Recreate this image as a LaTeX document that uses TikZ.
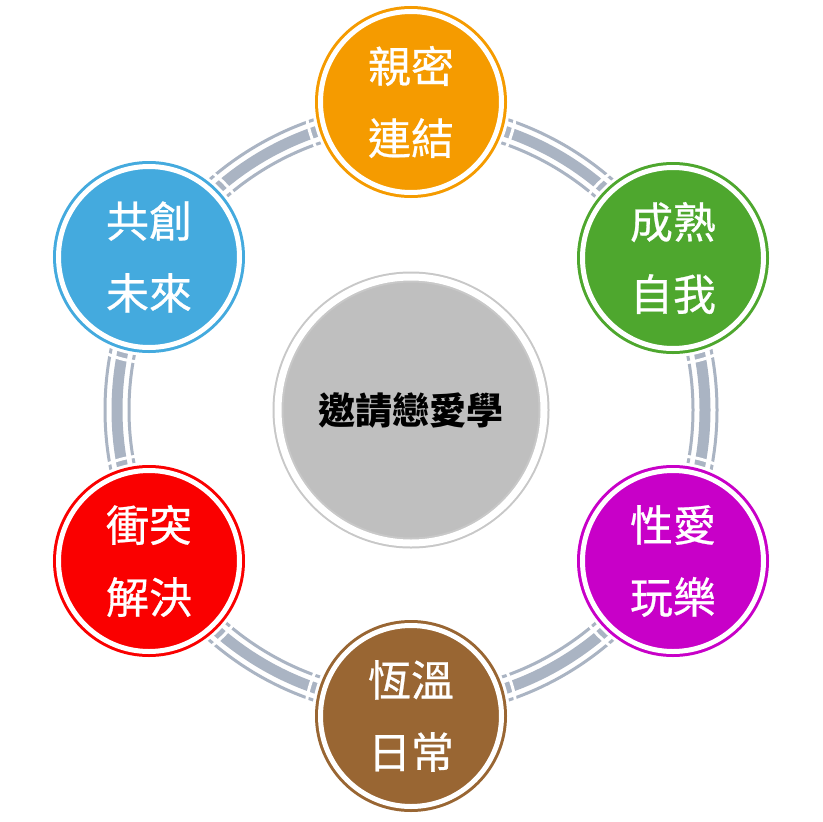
\documentclass[tikz,border=0pt]{standalone}
\usepackage{fontspec}
\newfontfamily\cjk{Noto Sans CJK TC}
\newfontfamily\cjkm{Noto Sans CJK TC}[FakeBold=0.6]
\definecolor{cOrange}{RGB}{245,155,0}
\definecolor{cGreen}{RGB}{78,167,46}
\definecolor{cMagenta}{RGB}{200,0,200}
\definecolor{cBrown}{RGB}{153,102,51}
\definecolor{cRed}{RGB}{250,0,0}
\definecolor{cBlue}{RGB}{68,170,222}
\definecolor{cGray}{RGB}{191,191,191}
\definecolor{cGrayLine}{RGB}{200,200,200}
\definecolor{cRing}{RGB}{170,180,195}
\tikzset{
  petal/.style={circle, inner sep=0pt, minimum size=181pt, fill=#1, draw=#1,
    double=white, double distance=5pt, line width=3pt, text=white,
    align=center, font=\cjkm\fontsize{43}{72}\selectfont},
  hub/.style={circle, inner sep=0pt, minimum size=266pt, fill=cGray, draw=cGrayLine,
    double=white, double distance=7pt, line width=2pt, text=black,
    font=\cjk\bfseries\fontsize{37}{44}\selectfont},
  ringthick/.style={cRing, line width=11pt},
  ringthin/.style={cRing, line width=3pt},
  mask/.style={white, line width=3pt}
}
\begin{document}
\begin{tikzpicture}[x=1pt,y=-1pt]
\useasboundingbox (0,0) rectangle (822,822);
\fill[white] (0,0) rectangle (822,822);
\coordinate (o) at (411,410);
% ring
\draw[ringthick] (o) circle (294pt);
\draw[ringthin] (o) circle (282pt);
\draw[ringthin] (o) circle (306pt);
% masks around outer circles
\foreach \p in {(411,102),(673,258),(673,561),(411,716),(149,561),(149,257)}{
  \fill[white] \p circle (99pt);
  \draw[mask] \p circle (105.5pt);
}
\node[hub] (hub) at (o) {邀請戀愛學};
\node[petal=cOrange] (n1) at (411,102) {親密\\連結};
\node[petal=cGreen] (n2) at (673,258) {成熟\\自我};
\node[petal=cMagenta] (n3) at (673,561) {性愛\\玩樂};
\node[petal=cBrown] (n4) at (411,716) {恆溫\\日常};
\node[petal=cRed] (n5) at (149,561) {衝突\\解決};
\node[petal=cBlue] (n6) at (149,257) {共創\\未來};
\end{tikzpicture}
\end{document}
